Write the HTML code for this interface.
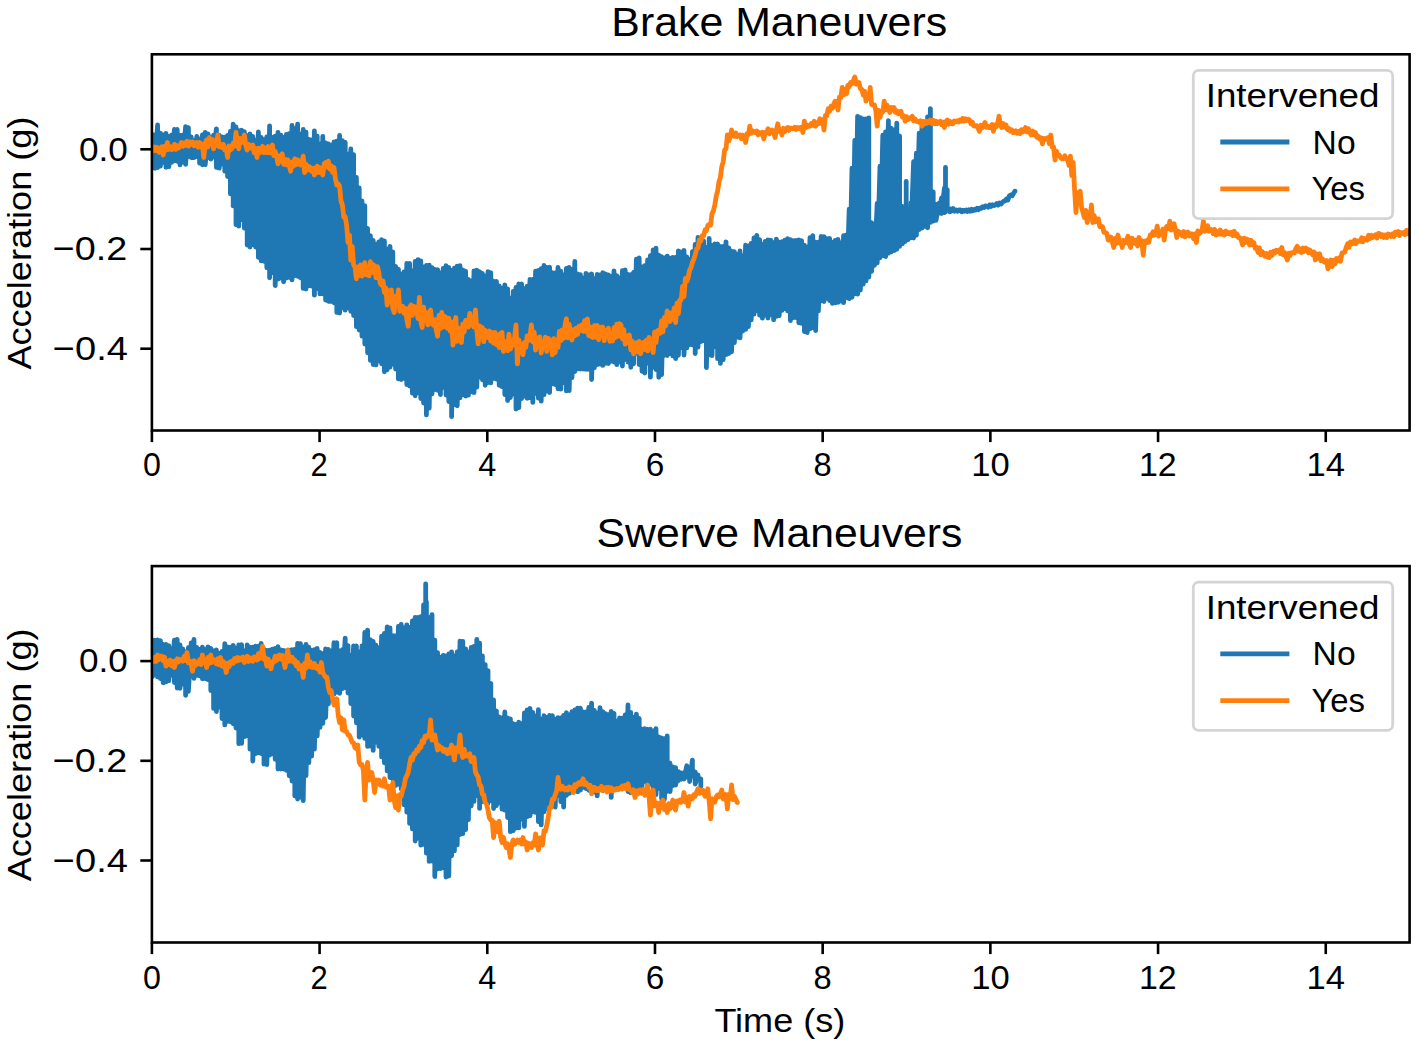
<!DOCTYPE html>
<html lang="en"><head><meta charset="utf-8"><title>Brake and Swerve Maneuvers</title>
<style>html,body{margin:0;padding:0;background:#fff;}svg{display:block;}text{font-family:"Liberation Sans",sans-serif;fill:#000;}</style></head><body>
<svg width="1418" height="1044" viewBox="0 0 1418 1044">
<rect width="1418" height="1044" fill="#fff"/>
<defs><clipPath id="c1"><rect x="151.9" y="54.3" width="1257.7" height="376.2"/></clipPath><clipPath id="c2"><rect x="151.9" y="566.1" width="1257.7" height="376.4"/></clipPath></defs>
<g clip-path="url(#c1)" fill="none" stroke-linejoin="round" stroke-linecap="round" stroke-width="4.8">
<path d="M152.0 134.3 L152.0 164.7 L154.8 134.8 L154.8 168.3 L157.6 125.0 L157.6 167.5 L160.4 133.1 L160.4 166.0 L163.2 134.8 L163.2 162.3 L166.0 133.5 L166.0 167.3 L168.8 136.5 L168.8 166.7 L171.6 135.2 L171.6 162.3 L174.4 129.4 L174.4 160.9 L177.2 129.4 L177.2 161.3 L180.0 135.4 L180.0 164.9 L182.8 135.1 L182.8 162.1 L185.6 126.6 L185.6 164.3 L188.4 127.7 L188.4 156.5 L191.2 136.9 L191.2 157.5 L194.0 140.6 L194.0 157.7 L196.8 136.5 L196.8 156.6 L199.6 139.2 L199.6 163.2 L202.4 135.0 L202.4 164.8 L205.2 132.5 L205.2 164.7 L208.0 134.0 L208.0 157.6 L210.8 137.1 L210.8 159.1 L213.6 135.2 L213.6 157.0 L216.4 128.8 L216.4 167.4 L219.2 135.2 L219.2 168.2 L222.0 136.8 L222.0 164.2 L224.8 137.1 L224.8 171.2 L227.6 135.5 L227.6 176.5 L230.4 131.5 L230.4 193.8 L233.2 124.1 L233.2 205.9 L236.0 126.9 L236.0 224.7 L238.8 130.6 L238.8 226.2 L241.6 130.2 L241.6 219.5 L244.4 131.7 L244.4 228.2 L247.2 135.6 L247.2 245.1 L250.0 134.0 L250.0 247.0 L252.8 136.3 L252.8 244.7 L255.6 140.2 L255.6 247.0 L258.4 131.9 L258.4 257.4 L261.2 137.4 L261.2 260.9 L264.0 139.7 L264.0 261.3 L266.8 136.9 L266.8 267.7 L269.6 125.9 L269.6 277.8 L272.4 137.5 L272.4 272.7 L275.2 136.2 L275.2 285.6 L278.0 132.4 L278.0 279.2 L280.8 135.1 L280.8 278.0 L283.6 137.3 L283.6 281.8 L286.4 134.4 L286.4 278.0 L289.2 133.7 L289.2 277.4 L292.0 125.5 L292.0 279.9 L294.8 128.6 L294.8 275.6 L297.6 124.2 L297.6 276.3 L300.4 134.1 L300.4 277.8 L303.2 129.5 L303.2 288.4 L306.0 132.2 L306.0 289.0 L308.8 139.5 L308.8 285.6 L311.6 140.0 L311.6 286.2 L314.4 130.9 L314.4 295.2 L317.2 136.2 L317.2 288.5 L320.0 144.1 L320.0 293.9 L322.8 136.4 L322.8 293.8 L325.6 142.9 L325.6 300.0 L328.4 144.0 L328.4 301.3 L331.2 145.1 L331.2 301.4 L334.0 142.0 L334.0 302.8 L336.8 141.1 L336.8 312.4 L339.6 135.5 L339.6 313.0 L342.4 140.7 L342.4 307.9 L345.2 142.3 L345.2 310.2 L348.0 154.1 L348.0 307.8 L350.8 148.9 L350.8 311.3 L353.6 154.7 L353.6 315.5 L356.4 177.4 L356.4 326.7 L359.2 187.9 L359.2 330.1 L362.0 200.8 L362.0 336.2 L364.8 205.7 L364.8 344.1 L367.6 228.4 L367.6 352.8 L370.4 235.6 L370.4 360.4 L373.2 240.4 L373.2 364.6 L376.0 244.5 L376.0 364.9 L378.8 241.9 L378.8 360.9 L381.6 239.6 L381.6 363.8 L384.4 241.0 L384.4 371.8 L387.2 249.1 L387.2 369.8 L390.0 246.4 L390.0 367.2 L392.8 251.9 L392.8 364.0 L395.6 266.5 L395.6 369.1 L398.4 269.1 L398.4 378.9 L401.2 273.8 L401.2 379.5 L404.0 272.0 L404.0 378.3 L406.8 263.5 L406.8 384.5 L409.6 263.5 L409.6 386.0 L412.4 271.0 L412.4 393.2 L415.2 261.4 L415.2 395.8 L418.0 259.6 L418.0 392.6 L420.8 260.9 L420.8 398.6 L423.6 266.9 L423.6 403.1 L426.4 265.5 L426.4 414.9 L429.2 265.1 L429.2 408.1 L432.0 267.7 L432.0 393.9 L434.8 269.3 L434.8 389.5 L437.6 269.6 L437.6 390.3 L440.4 272.9 L440.4 394.6 L443.2 268.5 L443.2 387.3 L446.0 265.7 L446.0 395.1 L448.8 267.5 L448.8 401.5 L451.6 270.4 L451.6 416.7 L454.4 268.1 L454.4 404.5 L457.2 266.1 L457.2 405.8 L460.0 265.7 L460.0 397.8 L462.8 269.9 L462.8 394.7 L465.6 271.2 L465.6 396.1 L468.4 279.4 L468.4 395.1 L471.2 280.8 L471.2 391.8 L474.0 270.8 L474.0 392.7 L476.8 270.2 L476.8 387.2 L479.6 271.6 L479.6 377.0 L482.4 273.4 L482.4 379.8 L485.2 276.2 L485.2 385.3 L488.0 271.7 L488.0 382.7 L490.8 272.6 L490.8 382.9 L493.6 281.1 L493.6 378.3 L496.4 281.3 L496.4 379.2 L499.2 286.0 L499.2 385.3 L502.0 288.2 L502.0 386.7 L504.8 285.0 L504.8 394.5 L507.6 288.8 L507.6 400.5 L510.4 298.2 L510.4 397.5 L513.2 291.4 L513.2 394.0 L516.0 287.5 L516.0 409.0 L518.8 283.8 L518.8 407.6 L521.6 283.9 L521.6 398.5 L524.4 288.7 L524.4 396.1 L527.2 286.2 L527.2 398.3 L530.0 279.5 L530.0 397.5 L532.8 279.3 L532.8 402.4 L535.6 271.1 L535.6 393.4 L538.4 270.5 L538.4 398.2 L541.2 268.7 L541.2 401.2 L544.0 265.5 L544.0 394.7 L546.8 267.5 L546.8 391.2 L549.6 267.1 L549.6 392.5 L552.4 272.6 L552.4 383.8 L555.2 273.0 L555.2 384.5 L558.0 267.3 L558.0 388.8 L560.8 271.2 L560.8 389.2 L563.6 274.8 L563.6 382.5 L566.4 268.4 L566.4 390.9 L569.2 267.4 L569.2 390.6 L572.0 269.3 L572.0 377.7 L574.8 261.5 L574.8 371.5 L577.6 273.8 L577.6 368.8 L580.4 274.6 L580.4 369.0 L583.2 278.1 L583.2 369.0 L586.0 273.4 L586.0 369.4 L588.8 274.9 L588.8 369.3 L591.6 273.8 L591.6 379.5 L594.4 278.7 L594.4 367.8 L597.2 274.4 L597.2 364.7 L600.0 274.8 L600.0 364.1 L602.8 272.7 L602.8 365.4 L605.6 274.0 L605.6 363.4 L608.4 274.9 L608.4 363.5 L611.2 276.3 L611.2 361.2 L614.0 270.9 L614.0 362.0 L616.8 275.7 L616.8 364.7 L619.6 277.8 L619.6 361.8 L622.4 270.6 L622.4 366.0 L625.2 270.0 L625.2 359.3 L628.0 274.5 L628.0 362.2 L630.8 274.6 L630.8 367.3 L633.6 272.3 L633.6 363.8 L636.4 259.2 L636.4 353.0 L639.2 257.9 L639.2 364.6 L642.0 266.8 L642.0 371.3 L644.8 265.6 L644.8 373.0 L647.6 260.0 L647.6 363.1 L650.4 255.7 L650.4 377.2 L653.2 249.8 L653.2 367.2 L656.0 248.1 L656.0 369.5 L658.8 255.2 L658.8 377.3 L661.6 256.7 L661.6 374.6 L664.4 257.9 L664.4 355.4 L667.2 256.1 L667.2 355.5 L670.0 258.2 L670.0 353.6 L672.8 257.4 L672.8 355.9 L675.6 257.3 L675.6 358.6 L678.4 250.9 L678.4 355.3 L681.2 252.0 L681.2 347.5 L684.0 250.4 L684.0 355.1 L686.8 257.0 L686.8 347.9 L689.6 259.4 L689.6 344.5 L692.4 251.7 L692.4 344.9 L695.2 244.3 L695.2 353.5 L698.0 237.3 L698.0 347.1 L700.8 237.6 L700.8 341.6 L703.6 240.8 L703.6 340.7 L706.4 247.5 L706.4 367.6 L709.2 238.4 L709.2 354.9 L712.0 245.4 L712.0 355.7 L714.8 243.9 L714.8 346.7 L717.6 244.0 L717.6 358.7 L720.4 246.3 L720.4 363.4 L723.2 246.5 L723.2 359.6 L726.0 241.8 L726.0 354.6 L728.8 248.0 L728.8 353.5 L731.6 251.2 L731.6 351.8 L734.4 251.7 L734.4 342.7 L737.2 254.3 L737.2 337.0 L740.0 251.0 L740.0 337.9 L742.8 255.9 L742.8 331.0 L745.6 245.2 L745.6 329.3 L748.4 245.8 L748.4 326.6 L751.2 243.4 L751.2 319.9 L754.0 237.8 L754.0 314.1 L756.8 235.5 L756.8 310.6 L759.6 239.6 L759.6 315.2 L762.4 244.4 L762.4 318.2 L765.2 241.4 L765.2 315.1 L768.0 239.8 L768.0 318.0 L770.8 240.2 L770.8 314.6 L773.6 242.7 L773.6 319.8 L776.4 239.2 L776.4 316.4 L779.2 242.2 L779.2 315.7 L782.0 241.6 L782.0 310.3 L784.8 240.2 L784.8 308.7 L787.6 238.6 L787.6 310.9 L790.4 239.6 L790.4 320.6 L793.2 240.7 L793.2 317.6 L796.0 240.3 L796.0 317.6 L798.8 240.0 L798.8 322.8 L801.6 240.6 L801.6 323.4 L804.4 245.1 L804.4 331.5 L807.2 247.1 L807.2 332.6 L810.0 237.6 L810.0 328.8 L812.8 235.7 L812.8 327.5 L815.6 242.1 L815.6 330.6 L818.4 242.1 L818.4 310.9 L821.2 236.3 L821.2 300.8 L824.0 236.6 L824.0 301.5 L826.8 238.6 L826.8 298.4 L829.6 238.4 L829.6 300.6 L832.4 242.1 L832.4 303.4 L835.2 240.5 L835.2 302.8 L838.0 239.4 L838.0 302.3 L840.8 242.9 L840.8 301.1 L843.6 235.7 L843.6 302.7 L846.4 234.8 L846.4 297.6 L849.2 209.1 L849.2 298.7 L852.0 168.2 L852.0 297.3 L854.8 140.4 L854.8 293.9 L857.6 116.4 L857.6 294.2 L860.4 117.7 L860.4 290.0 L863.2 118.9 L863.2 284.2 L866.0 118.9 L866.0 280.9 L868.8 117.9 L868.8 277.2 L871.6 222.6 L871.6 271.4 L874.4 228.3 L874.4 265.3 L877.2 203.4 L877.2 262.9 L880.0 166.2 L880.0 257.8 L882.8 135.2 L882.8 255.6 L885.6 131.8 L885.6 256.6 L888.4 120.7 L888.4 253.1 L891.2 128.2 L891.2 251.9 L894.0 129.9 L894.0 250.6 L896.8 123.1 L896.8 249.3 L899.6 135.9 L899.6 246.3 L902.4 206.5 L902.4 243.7 L905.2 209.2 L905.2 241.5 L908.0 214.7 L908.0 239.6 L910.8 203.0 L910.8 237.9 L913.6 161.7 L913.6 238.0 L916.4 153.2 L916.4 235.2 L919.2 133.1 L919.2 229.5 L922.0 126.8 L922.0 228.0 L924.8 124.1 L924.8 226.4 L927.6 116.8 L927.6 227.8 L930.4 108.6 L930.4 222.3 L933.2 191.8 L933.2 221.2 L936.0 204.3 L936.0 220.4 L938.8 203.5 L938.8 213.2 L941.6 197.9 L941.6 213.6 L944.4 188.2 L944.4 212.5 L947.2 189.6 L947.2 209.7 L950.0 209.7 L950.0 211.9 L950.5 208.8 L951.9 210.8 L953.3 208.6 L954.7 211.2 L956.1 210.0 L957.5 211.2 L958.9 209.9 L960.3 210.0 L961.7 211.8 L963.1 210.3 L964.5 211.2 L965.9 210.1 L967.3 211.4 L968.7 209.7 L970.1 211.2 L971.5 209.3 L972.9 210.8 L974.3 209.4 L975.7 210.0 L977.1 208.2 L978.5 209.6 L979.9 208.2 L981.3 208.3 L982.7 206.7 L984.1 207.5 L985.5 205.8 L986.9 206.2 L988.3 207.2 L989.7 204.9 L991.1 206.5 L992.5 204.7 L993.9 205.6 L995.3 205.0 L996.7 203.6 L998.1 205.0 L999.5 203.1 L1000.9 204.0 L1002.3 202.5 L1003.7 201.2 L1005.1 200.9 L1006.5 199.0 L1007.9 200.0 L1009.3 196.0 L1010.7 195.0 L1012.1 195.7 L1013.5 193.4 L1014.9 191.2 L1015.0 191.2" stroke="#1f77b4"/>
<path d="M906.2 181.5 L906.2 222.0" stroke="#1f77b4"/>
<path d="M945.5 167.5 L945.5 212.0" stroke="#1f77b4"/>
<path d="M152.0 147.5 L153.4 150.8 L154.8 147.1 L156.2 150.6 L157.6 147.6 L159.0 152.4 L160.4 150.0 L161.8 146.8 L163.2 155.0 L164.6 146.5 L166.0 150.0 L167.4 142.5 L168.8 149.4 L170.2 146.6 L171.6 149.6 L173.0 148.8 L174.4 144.4 L175.8 149.4 L177.2 145.8 L178.6 148.0 L180.0 146.2 L181.4 142.4 L182.8 146.4 L184.2 143.1 L185.6 145.2 L187.0 141.2 L188.4 146.1 L189.8 142.0 L191.2 144.2 L192.6 141.9 L194.0 145.7 L195.4 145.0 L196.8 142.5 L198.2 147.3 L199.6 142.5 L201.0 147.0 L202.4 144.3 L203.8 157.5 L205.2 143.2 L206.6 140.0 L208.0 147.0 L209.4 137.5 L210.8 143.2 L212.2 139.5 L213.6 148.8 L215.0 140.3 L216.4 145.3 L217.8 135.0 L219.2 146.8 L220.6 144.5 L222.0 147.5 L223.4 144.5 L224.8 149.9 L226.2 148.4 L227.6 157.5 L229.0 145.8 L230.4 150.0 L231.8 148.8 L233.2 143.3 L234.6 146.1 L236.0 132.5 L237.4 142.4 L238.8 148.8 L240.2 138.5 L241.6 142.5 L243.0 142.1 L244.4 135.0 L245.8 145.6 L247.2 150.0 L248.6 144.4 L250.0 148.1 L251.4 146.1 L252.8 145.0 L254.2 152.8 L255.6 148.5 L257.0 157.5 L258.4 148.2 L259.8 152.7 L261.2 150.5 L262.6 146.2 L264.0 152.7 L265.4 148.0 L266.8 152.5 L268.2 146.5 L269.6 152.9 L271.0 149.8 L272.4 145.0 L273.8 155.7 L275.2 151.5 L276.6 156.1 L278.0 163.8 L279.4 155.9 L280.8 161.1 L282.2 153.8 L283.6 164.3 L285.0 159.3 L286.4 164.8 L287.8 159.9 L289.2 165.5 L290.6 171.2 L292.0 161.9 L293.4 166.1 L294.8 158.8 L296.2 164.7 L297.6 159.7 L299.0 163.3 L300.4 165.0 L301.8 162.6 L303.2 156.2 L304.6 172.5 L306.0 164.1 L307.4 170.1 L308.8 166.5 L310.2 167.5 L311.6 171.4 L313.0 168.3 L314.4 175.0 L315.8 168.8 L317.2 166.2 L318.6 172.6 L320.0 167.8 L321.4 170.4 L322.8 175.0 L324.2 163.6 L325.6 162.5 L327.0 167.0 L328.4 161.2 L329.8 169.0 L331.2 165.8 L332.6 172.4 L334.0 167.5 L335.4 178.8 L336.8 185.0 L338.2 183.9 L339.6 186.2 L341.0 200.9 L342.4 205.0 L343.8 217.2 L345.2 216.8 L346.6 225.0 L348.0 242.4 L349.4 235.0 L350.8 260.0 L352.2 246.4 L353.6 264.6 L355.0 267.5 L356.4 278.8 L357.8 266.8 L359.2 275.7 L360.6 265.0 L362.0 276.0 L363.4 272.5 L364.8 262.6 L366.2 274.8 L367.6 267.5 L369.0 275.9 L370.4 261.7 L371.8 272.5 L373.2 264.6 L374.6 266.2 L376.0 277.8 L377.4 266.6 L378.8 272.5 L380.2 283.2 L381.6 285.0 L383.0 280.9 L384.4 292.5 L385.8 288.0 L387.2 305.0 L388.6 290.7 L390.0 301.6 L391.4 290.0 L392.8 308.2 L394.2 312.5 L395.6 296.4 L397.0 304.3 L398.4 290.0 L399.8 311.3 L401.2 310.0 L402.6 306.2 L404.0 313.3 L405.4 308.4 L406.8 318.9 L408.2 326.2 L409.6 307.9 L411.0 305.0 L412.4 315.4 L413.8 306.3 L415.2 312.5 L416.6 307.1 L418.0 318.5 L419.4 297.5 L420.8 321.1 L422.2 327.5 L423.6 307.2 L425.0 316.7 L426.4 312.5 L427.8 324.9 L429.2 313.9 L430.6 310.0 L432.0 323.5 L433.4 325.0 L434.8 319.6 L436.2 329.6 L437.6 336.2 L439.0 315.3 L440.4 328.6 L441.8 312.5 L443.2 327.0 L444.6 316.5 L446.0 317.5 L447.4 328.4 L448.8 318.2 L450.2 331.3 L451.6 322.0 L453.0 345.0 L454.4 324.2 L455.8 317.5 L457.2 341.3 L458.6 328.1 L460.0 334.9 L461.4 342.5 L462.8 324.2 L464.2 331.8 L465.6 320.5 L467.0 322.5 L468.4 327.0 L469.8 313.3 L471.2 325.1 L472.6 318.5 L474.0 327.0 L475.4 310.0 L476.8 330.0 L478.2 343.8 L479.6 325.9 L481.0 332.5 L482.4 327.5 L483.8 341.7 L485.2 330.3 L486.6 336.5 L488.0 337.5 L489.4 331.0 L490.8 341.1 L492.2 332.5 L493.6 343.2 L495.0 332.4 L496.4 344.7 L497.8 334.8 L499.2 347.5 L500.6 333.5 L502.0 332.5 L503.4 351.4 L504.8 347.5 L506.2 341.6 L507.6 350.7 L509.0 334.2 L510.4 349.1 L511.8 340.9 L513.2 345.0 L514.6 337.8 L516.0 325.0 L517.4 363.8 L518.8 340.0 L520.2 347.2 L521.6 344.2 L523.0 354.6 L524.4 342.5 L525.8 347.5 L527.2 335.8 L528.6 340.5 L530.0 335.8 L531.4 325.0 L532.8 341.9 L534.2 332.2 L535.6 350.0 L537.0 338.0 L538.4 346.4 L539.8 336.9 L541.2 353.0 L542.6 342.5 L544.0 347.8 L545.4 337.1 L546.8 351.4 L548.2 338.4 L549.6 347.5 L551.0 340.2 L552.4 354.9 L553.8 338.7 L555.2 352.6 L556.6 340.2 L558.0 347.5 L559.4 331.4 L560.8 340.7 L562.2 330.0 L563.6 338.3 L565.0 325.2 L566.4 318.8 L567.8 337.8 L569.2 324.4 L570.6 334.1 L572.0 340.0 L573.4 329.7 L574.8 335.9 L576.2 328.3 L577.6 334.4 L579.0 326.2 L580.4 330.0 L581.8 324.9 L583.2 331.3 L584.6 320.7 L586.0 331.7 L587.4 318.8 L588.8 335.5 L590.2 326.9 L591.6 336.8 L593.0 337.5 L594.4 325.7 L595.8 337.1 L597.2 325.4 L598.6 339.6 L600.0 327.5 L601.4 335.6 L602.8 327.0 L604.2 340.7 L605.6 330.7 L607.0 335.0 L608.4 328.2 L609.8 341.3 L611.2 333.7 L612.6 341.0 L614.0 327.7 L615.4 337.5 L616.8 324.2 L618.2 336.3 L619.6 323.6 L621.0 325.0 L622.4 338.8 L623.8 329.5 L625.2 344.1 L626.6 336.0 L628.0 342.5 L629.4 335.0 L630.8 349.8 L632.2 341.0 L633.6 353.8 L635.0 347.5 L636.4 342.7 L637.8 352.0 L639.2 341.5 L640.6 353.8 L642.0 347.5 L643.4 342.4 L644.8 349.5 L646.2 340.3 L647.6 350.9 L649.0 337.5 L650.4 340.0 L651.8 346.8 L653.2 352.5 L654.6 332.2 L656.0 342.4 L657.4 330.8 L658.8 330.0 L660.2 333.2 L661.6 320.9 L663.0 331.8 L664.4 317.5 L665.8 325.6 L667.2 311.0 L668.6 313.8 L670.0 321.5 L671.4 313.0 L672.8 319.2 L674.2 308.0 L675.6 322.5 L677.0 303.1 L678.4 313.6 L679.8 300.0 L681.2 299.8 L682.6 286.3 L684.0 296.5 L685.4 278.4 L686.8 281.3 L688.2 277.5 L689.6 270.0 L691.0 267.7 L692.4 262.5 L693.8 259.1 L695.2 255.0 L696.6 249.0 L698.0 248.0 L699.4 240.0 L700.8 241.2 L702.2 235.7 L703.6 236.0 L705.0 230.0 L706.4 230.7 L707.8 225.5 L709.2 224.4 L710.6 225.0 L712.0 213.6 L713.4 210.9 L714.8 205.0 L716.2 196.4 L717.6 191.2 L719.0 181.7 L720.4 177.5 L721.8 166.6 L723.2 161.8 L724.6 150.0 L726.0 148.7 L727.4 135.0 L728.8 140.8 L730.2 137.2 L731.6 130.0 L733.0 135.7 L734.4 136.2 L735.8 132.9 L737.2 136.4 L738.6 135.7 L740.0 135.0 L741.4 138.6 L742.8 135.2 L744.2 136.6 L745.6 142.5 L747.0 133.7 L748.4 134.5 L749.8 126.2 L751.2 133.3 L752.6 130.8 L754.0 131.8 L755.4 132.5 L756.8 131.0 L758.2 134.8 L759.6 132.5 L761.0 134.0 L762.4 132.3 L763.8 138.8 L765.2 132.4 L766.6 132.9 L768.0 128.8 L769.4 133.9 L770.8 130.3 L772.2 130.0 L773.6 131.6 L775.0 137.5 L776.4 130.0 L777.8 123.8 L779.2 131.5 L780.6 130.0 L782.0 135.0 L783.4 128.3 L784.8 131.5 L786.2 128.4 L787.6 127.5 L789.0 130.4 L790.4 127.9 L791.8 128.7 L793.2 128.8 L794.6 127.3 L796.0 129.5 L797.4 127.5 L798.8 128.7 L800.2 127.4 L801.6 127.5 L803.0 132.5 L804.4 121.2 L805.8 127.6 L807.2 125.1 L808.6 126.4 L810.0 126.2 L811.4 123.4 L812.8 125.3 L814.2 121.2 L815.6 126.2 L817.0 123.0 L818.4 123.8 L819.8 118.8 L821.2 123.2 L822.6 119.7 L824.0 130.0 L825.4 115.4 L826.8 115.7 L828.2 108.8 L829.6 111.2 L831.0 106.2 L832.4 108.2 L833.8 103.9 L835.2 101.2 L836.6 102.9 L838.0 110.0 L839.4 97.1 L840.8 97.6 L842.2 87.5 L843.6 94.9 L845.0 89.5 L846.4 93.8 L847.8 85.4 L849.2 86.6 L850.6 82.5 L852.0 83.7 L853.4 80.5 L854.8 77.0 L856.2 84.2 L857.6 84.1 L859.0 82.5 L860.4 88.8 L861.8 89.3 L863.2 95.0 L864.6 91.2 L866.0 101.2 L867.4 95.4 L868.8 98.6 L870.2 87.5 L871.6 104.6 L873.0 105.1 L874.4 105.0 L875.8 110.3 L877.2 126.2 L878.6 110.3 L880.0 117.5 L881.4 111.3 L882.8 111.9 L884.2 101.2 L885.6 109.8 L887.0 105.0 L888.4 108.0 L889.8 112.5 L891.2 107.4 L892.6 110.1 L894.0 107.5 L895.4 112.4 L896.8 110.7 L898.2 113.8 L899.6 112.3 L901.0 111.2 L902.4 117.0 L903.8 115.8 L905.2 121.2 L906.6 116.6 L908.0 119.5 L909.4 118.8 L910.8 117.5 L912.2 116.2 L913.6 120.9 L915.0 119.0 L916.4 121.4 L917.8 121.2 L919.2 122.3 L920.6 120.7 L922.0 126.2 L923.4 121.4 L924.8 124.0 L926.2 121.2 L927.6 123.1 L929.0 121.1 L930.4 120.0 L931.8 123.5 L933.2 120.3 L934.6 123.8 L936.0 121.2 L937.4 123.7 L938.8 122.6 L940.2 121.2 L941.6 124.7 L943.0 122.1 L944.4 127.5 L945.8 121.8 L947.2 120.0 L948.6 124.3 L950.0 121.3 L951.4 123.7 L952.8 123.8 L954.2 121.1 L955.6 121.9 L957.0 120.8 L958.4 121.9 L959.8 120.0 L961.2 121.2 L962.6 118.4 L964.0 121.2 L965.4 118.8 L966.8 120.4 L968.2 119.2 L969.6 120.0 L971.0 123.9 L972.4 122.2 L973.8 125.9 L975.2 126.2 L976.6 125.7 L978.0 128.1 L979.4 131.2 L980.8 125.3 L982.2 127.9 L983.6 125.0 L985.0 122.5 L986.4 127.2 L987.8 126.3 L989.2 127.7 L990.6 127.5 L992.0 124.4 L993.4 131.2 L994.8 124.9 L996.2 126.9 L997.6 123.7 L999.0 116.2 L1000.4 125.0 L1001.8 127.5 L1003.2 123.5 L1004.6 127.0 L1006.0 125.0 L1007.4 129.5 L1008.8 128.5 L1010.2 131.2 L1011.6 129.8 L1013.0 132.6 L1014.4 132.5 L1015.8 130.9 L1017.2 133.1 L1018.6 131.5 L1020.0 133.8 L1021.4 129.6 L1022.8 132.0 L1024.2 130.0 L1025.6 127.5 L1027.0 131.9 L1028.4 128.8 L1029.8 132.6 L1031.2 135.0 L1032.6 131.0 L1034.0 134.7 L1035.4 132.5 L1036.8 137.3 L1038.2 136.2 L1039.6 138.9 L1041.0 137.7 L1042.4 143.8 L1043.8 138.4 L1045.2 139.4 L1046.6 138.4 L1048.0 137.5 L1049.4 143.6 L1050.8 135.0 L1052.2 147.1 L1053.6 147.0 L1055.0 160.0 L1056.4 151.1 L1057.8 155.0 L1059.2 155.0 L1060.6 157.8 L1062.0 158.8 L1063.4 158.8 L1064.8 155.7 L1066.2 158.8 L1067.6 159.7 L1069.0 165.3 L1070.4 156.2 L1071.8 175.5 L1073.2 162.5 L1074.6 190.0 L1076.0 212.5 L1077.4 192.8 L1078.8 201.7 L1080.2 191.2 L1081.6 207.5 L1083.0 212.5 L1084.4 217.5 L1085.8 210.4 L1087.2 222.5 L1088.6 216.2 L1090.0 218.1 L1091.4 205.0 L1092.8 222.5 L1094.2 215.6 L1095.6 221.8 L1097.0 219.0 L1098.4 218.8 L1099.8 226.7 L1101.2 226.2 L1102.6 226.8 L1104.0 232.4 L1105.4 232.5 L1106.8 233.3 L1108.2 240.0 L1109.6 240.0 L1111.0 237.1 L1112.4 242.5 L1113.8 247.5 L1115.2 238.4 L1116.6 243.3 L1118.0 235.0 L1119.4 242.9 L1120.8 240.5 L1122.2 247.5 L1123.6 240.3 L1125.0 242.9 L1126.4 242.2 L1127.8 236.2 L1129.2 243.9 L1130.6 247.5 L1132.0 238.1 L1133.4 240.0 L1134.8 243.3 L1136.2 240.1 L1137.6 246.0 L1139.0 237.5 L1140.4 243.3 L1141.8 240.6 L1143.2 255.0 L1144.6 241.2 L1146.0 243.1 L1147.4 240.2 L1148.8 242.3 L1150.2 235.0 L1151.6 235.7 L1153.0 231.7 L1154.4 235.0 L1155.8 233.8 L1157.2 226.2 L1158.6 236.2 L1160.0 232.5 L1161.4 233.9 L1162.8 229.3 L1164.2 240.0 L1165.6 228.0 L1167.0 226.2 L1168.4 228.7 L1169.8 221.2 L1171.2 230.1 L1172.6 224.4 L1174.0 223.8 L1175.4 230.0 L1176.8 237.5 L1178.2 231.0 L1179.6 233.9 L1181.0 232.5 L1182.4 235.9 L1183.8 231.5 L1185.2 236.8 L1186.6 235.0 L1188.0 232.1 L1189.4 236.0 L1190.8 233.9 L1192.2 233.8 L1193.6 238.9 L1195.0 234.0 L1196.4 242.5 L1197.8 230.9 L1199.2 233.7 L1200.6 232.5 L1202.0 230.6 L1203.4 221.2 L1204.8 231.4 L1206.2 230.0 L1207.6 225.6 L1209.0 231.2 L1210.4 229.2 L1211.8 230.0 L1213.2 233.6 L1214.6 229.3 L1216.0 235.0 L1217.4 231.6 L1218.8 234.1 L1220.2 230.0 L1221.6 234.2 L1223.0 232.2 L1224.4 235.0 L1225.8 231.0 L1227.2 233.7 L1228.6 232.5 L1230.0 234.0 L1231.4 232.2 L1232.8 235.5 L1234.2 231.2 L1235.6 235.5 L1237.0 234.0 L1238.4 237.5 L1239.8 237.6 L1241.2 240.1 L1242.6 245.0 L1244.0 238.2 L1245.4 242.5 L1246.8 239.1 L1248.2 240.0 L1249.6 245.1 L1251.0 240.3 L1252.4 244.9 L1253.8 242.5 L1255.2 248.3 L1256.6 247.3 L1258.0 252.5 L1259.4 247.9 L1260.8 254.8 L1262.2 251.4 L1263.6 253.8 L1265.0 256.2 L1266.4 253.4 L1267.8 257.1 L1269.2 257.5 L1270.6 252.3 L1272.0 255.6 L1273.4 251.2 L1274.8 253.0 L1276.2 250.3 L1277.6 251.4 L1279.0 250.0 L1280.4 253.6 L1281.8 247.5 L1283.2 254.8 L1284.6 252.6 L1286.0 256.5 L1287.4 260.0 L1288.8 253.2 L1290.2 255.6 L1291.6 252.6 L1293.0 252.5 L1294.4 253.0 L1295.8 248.6 L1297.2 246.2 L1298.6 251.4 L1300.0 248.9 L1301.4 252.5 L1302.8 248.0 L1304.2 251.4 L1305.6 248.0 L1307.0 248.8 L1308.4 252.8 L1309.8 249.9 L1311.2 252.5 L1312.6 254.8 L1314.0 252.0 L1315.4 260.0 L1316.8 254.0 L1318.2 258.1 L1319.6 253.8 L1321.0 260.7 L1322.4 258.8 L1323.8 261.7 L1325.2 262.5 L1326.6 260.6 L1328.0 268.8 L1329.4 261.8 L1330.8 260.0 L1332.2 266.6 L1333.6 260.3 L1335.0 263.8 L1336.4 258.5 L1337.8 260.9 L1339.2 258.0 L1340.6 261.2 L1342.0 252.8 L1343.4 252.5 L1344.8 252.1 L1346.2 247.3 L1347.6 243.8 L1349.0 247.3 L1350.4 241.9 L1351.8 243.8 L1353.2 243.5 L1354.6 240.0 L1356.0 243.5 L1357.4 241.0 L1358.8 241.2 L1360.2 241.3 L1361.6 237.8 L1363.0 241.7 L1364.4 238.5 L1365.8 238.8 L1367.2 240.1 L1368.6 235.3 L1370.0 238.6 L1371.4 235.2 L1372.8 237.4 L1374.2 236.2 L1375.6 234.8 L1377.0 238.1 L1378.4 233.4 L1379.8 233.8 L1381.2 236.5 L1382.6 234.9 L1384.0 237.5 L1385.4 234.9 L1386.8 237.6 L1388.2 233.9 L1389.6 235.0 L1391.0 236.4 L1392.4 233.9 L1393.8 236.6 L1395.2 232.1 L1396.6 234.5 L1398.0 231.4 L1399.4 235.6 L1400.8 232.4 L1402.2 233.6 L1403.6 232.5 L1405.0 234.6 L1406.4 230.4 L1407.8 233.8 L1409.2 231.2 L1410.6 230.4 L1412.0 233.2 L1413.4 230.0 L1414.0 230.0" stroke="#ff7f0e"/>
</g>
<g clip-path="url(#c2)" fill="none" stroke-linejoin="round" stroke-linecap="round" stroke-width="4.8">
<path d="M152.0 649.9 L152.0 676.7 L154.8 640.1 L154.8 675.1 L157.6 639.9 L157.6 676.9 L160.4 640.6 L160.4 678.6 L163.2 644.5 L163.2 682.8 L166.0 644.5 L166.0 681.9 L168.8 645.7 L168.8 680.7 L171.6 648.8 L171.6 675.2 L174.4 640.2 L174.4 682.6 L177.2 639.4 L177.2 688.0 L180.0 644.8 L180.0 688.3 L182.8 648.9 L182.8 684.1 L185.6 651.8 L185.6 695.3 L188.4 647.6 L188.4 691.3 L191.2 643.0 L191.2 675.3 L194.0 639.5 L194.0 678.4 L196.8 647.5 L196.8 675.3 L199.6 649.3 L199.6 675.9 L202.4 647.2 L202.4 678.8 L205.2 649.7 L205.2 678.5 L208.0 646.8 L208.0 679.7 L210.8 648.3 L210.8 690.5 L213.6 650.9 L213.6 708.4 L216.4 650.0 L216.4 711.6 L219.2 653.5 L219.2 707.0 L222.0 651.4 L222.0 718.6 L224.8 643.6 L224.8 724.9 L227.6 647.0 L227.6 721.4 L230.4 647.2 L230.4 721.8 L233.2 645.3 L233.2 723.8 L236.0 648.2 L236.0 728.0 L238.8 644.9 L238.8 743.7 L241.6 644.7 L241.6 743.4 L244.4 651.0 L244.4 736.7 L247.2 644.8 L247.2 735.9 L250.0 647.1 L250.0 749.2 L252.8 647.1 L252.8 761.0 L255.6 646.1 L255.6 753.6 L258.4 646.1 L258.4 752.6 L261.2 643.5 L261.2 753.6 L264.0 649.2 L264.0 764.2 L266.8 650.3 L266.8 764.6 L269.6 650.2 L269.6 755.2 L272.4 649.2 L272.4 753.8 L275.2 648.3 L275.2 759.3 L278.0 646.7 L278.0 769.0 L280.8 649.8 L280.8 769.0 L283.6 650.4 L283.6 769.1 L286.4 650.9 L286.4 770.3 L289.2 650.1 L289.2 775.8 L292.0 649.7 L292.0 781.1 L294.8 649.3 L294.8 795.9 L297.6 643.5 L297.6 799.0 L300.4 643.6 L300.4 797.1 L303.2 647.2 L303.2 800.7 L306.0 644.4 L306.0 775.7 L308.8 647.1 L308.8 762.6 L311.6 650.5 L311.6 756.2 L314.4 649.6 L314.4 749.2 L317.2 648.4 L317.2 735.8 L320.0 652.3 L320.0 727.4 L322.8 653.6 L322.8 723.3 L325.6 648.8 L325.6 717.5 L328.4 649.5 L328.4 703.8 L331.2 650.8 L331.2 696.8 L334.0 642.7 L334.0 694.0 L336.8 642.7 L336.8 692.2 L339.6 650.9 L339.6 693.3 L342.4 649.6 L342.4 688.7 L345.2 638.1 L345.2 687.5 L348.0 645.6 L348.0 693.0 L350.8 655.3 L350.8 703.6 L353.6 645.8 L353.6 716.1 L356.4 645.9 L356.4 722.8 L359.2 652.0 L359.2 737.1 L362.0 646.0 L362.0 735.1 L364.8 632.4 L364.8 738.4 L367.6 630.1 L367.6 746.4 L370.4 639.6 L370.4 746.1 L373.2 641.5 L373.2 750.4 L376.0 645.2 L376.0 742.2 L378.8 648.1 L378.8 746.3 L381.6 636.1 L381.6 756.9 L384.4 633.4 L384.4 762.8 L387.2 626.8 L387.2 770.9 L390.0 627.9 L390.0 777.6 L392.8 635.6 L392.8 779.1 L395.6 636.0 L395.6 785.5 L398.4 626.3 L398.4 784.1 L401.2 624.3 L401.2 788.9 L404.0 628.0 L404.0 804.8 L406.8 625.0 L406.8 812.2 L409.6 627.3 L409.6 823.4 L412.4 620.9 L412.4 828.9 L415.2 617.5 L415.2 841.0 L418.0 617.3 L418.0 838.2 L420.8 616.7 L420.8 845.2 L423.6 604.9 L423.6 844.4 L426.4 602.0 L426.4 853.2 L429.2 617.6 L429.2 861.4 L432.0 614.6 L432.0 861.0 L434.8 640.1 L434.8 876.6 L437.6 652.7 L437.6 868.9 L440.4 657.2 L440.4 868.7 L443.2 655.3 L443.2 867.8 L446.0 655.9 L446.0 877.0 L448.8 654.0 L448.8 876.0 L451.6 651.9 L451.6 855.8 L454.4 655.8 L454.4 850.9 L457.2 652.0 L457.2 844.9 L460.0 641.2 L460.0 834.5 L462.8 641.5 L462.8 833.6 L465.6 648.8 L465.6 829.6 L468.4 652.1 L468.4 819.7 L471.2 647.5 L471.2 805.9 L474.0 646.5 L474.0 801.4 L476.8 639.5 L476.8 795.5 L479.6 643.1 L479.6 808.4 L482.4 656.0 L482.4 801.6 L485.2 664.6 L485.2 795.7 L488.0 670.6 L488.0 803.4 L490.8 683.3 L490.8 800.5 L493.6 699.9 L493.6 808.5 L496.4 710.8 L496.4 805.6 L499.2 716.8 L499.2 802.9 L502.0 718.0 L502.0 809.2 L504.8 712.0 L504.8 810.2 L507.6 717.9 L507.6 817.5 L510.4 718.8 L510.4 831.7 L513.2 723.6 L513.2 830.6 L516.0 724.3 L516.0 828.0 L518.8 722.2 L518.8 827.9 L521.6 723.7 L521.6 819.2 L524.4 713.0 L524.4 826.4 L527.2 709.9 L527.2 816.6 L530.0 708.3 L530.0 815.6 L532.8 712.5 L532.8 811.9 L535.6 716.1 L535.6 812.4 L538.4 709.7 L538.4 821.7 L541.2 719.1 L541.2 824.9 L544.0 715.7 L544.0 811.8 L546.8 717.4 L546.8 808.7 L549.6 715.3 L549.6 805.7 L552.4 715.7 L552.4 805.5 L555.2 719.2 L555.2 807.1 L558.0 717.7 L558.0 795.3 L560.8 717.9 L560.8 801.7 L563.6 715.4 L563.6 807.1 L566.4 712.6 L566.4 795.4 L569.2 714.8 L569.2 793.4 L572.0 711.7 L572.0 792.0 L574.8 710.0 L574.8 791.2 L577.6 708.1 L577.6 791.8 L580.4 708.2 L580.4 790.2 L583.2 712.0 L583.2 787.3 L586.0 711.9 L586.0 788.5 L588.8 707.5 L588.8 790.3 L591.6 703.1 L591.6 791.6 L594.4 710.5 L594.4 792.2 L597.2 713.1 L597.2 795.9 L600.0 707.7 L600.0 788.4 L602.8 711.6 L602.8 790.6 L605.6 713.7 L605.6 787.9 L608.4 714.7 L608.4 790.1 L611.2 711.5 L611.2 797.4 L614.0 713.3 L614.0 786.4 L616.8 721.1 L616.8 786.2 L619.6 717.9 L619.6 788.4 L622.4 718.2 L622.4 789.0 L625.2 715.0 L625.2 786.0 L628.0 705.0 L628.0 791.6 L630.8 712.5 L630.8 792.9 L633.6 717.3 L633.6 792.1 L636.4 714.2 L636.4 789.6 L639.2 718.5 L639.2 787.8 L642.0 729.1 L642.0 786.5 L644.8 728.6 L644.8 781.3 L647.6 729.3 L647.6 784.5 L650.4 729.2 L650.4 784.0 L653.2 731.0 L653.2 788.0 L656.0 728.7 L656.0 794.7 L658.8 736.8 L658.8 788.3 L661.6 737.8 L661.6 798.5 L664.4 738.6 L664.4 799.3 L667.2 736.0 L667.2 791.4 L670.0 763.2 L670.0 791.7 L672.8 767.0 L672.8 785.7 L675.6 767.7 L675.6 785.1 L678.4 771.6 L678.4 780.5 L681.2 773.0 L681.2 779.3 L684.0 772.8 L684.0 779.0 L686.8 765.8 L686.8 777.0 L689.6 768.1 L689.6 781.5 L692.4 760.1 L692.4 776.2 L695.2 772.0 L695.2 784.0 L698.0 775.0 L698.0 779.5 L700.8 778.9 L700.8 786.6" stroke="#1f77b4"/>
<path d="M425.7 583.8 L425.7 650.0" stroke="#1f77b4"/>
<path d="M152.0 662.5 L153.4 661.2 L154.8 657.2 L156.2 661.4 L157.6 655.0 L159.0 659.5 L160.4 656.2 L161.8 656.2 L163.2 660.9 L164.6 657.2 L166.0 666.2 L167.4 661.3 L168.8 664.5 L170.2 660.0 L171.6 665.8 L173.0 661.4 L174.4 667.5 L175.8 660.8 L177.2 658.8 L178.6 661.9 L180.0 659.5 L181.4 660.0 L182.8 661.2 L184.2 656.3 L185.6 660.5 L187.0 652.5 L188.4 662.9 L189.8 660.9 L191.2 664.3 L192.6 671.2 L194.0 660.6 L195.4 665.5 L196.8 662.5 L198.2 663.6 L199.6 659.8 L201.0 664.6 L202.4 655.0 L203.8 662.6 L205.2 659.2 L206.6 667.5 L208.0 657.4 L209.4 663.3 L210.8 655.0 L212.2 662.4 L213.6 659.5 L215.0 660.6 L216.4 663.8 L217.8 658.7 L219.2 664.7 L220.6 657.5 L222.0 666.2 L223.4 661.6 L224.8 665.4 L226.2 672.5 L227.6 663.2 L229.0 666.8 L230.4 661.9 L231.8 661.2 L233.2 663.3 L234.6 658.5 L236.0 661.3 L237.4 657.5 L238.8 660.4 L240.2 658.1 L241.6 659.8 L243.0 657.1 L244.4 662.5 L245.8 658.3 L247.2 656.2 L248.6 661.5 L250.0 657.7 L251.4 660.6 L252.8 661.2 L254.2 656.9 L255.6 658.2 L257.0 660.0 L258.4 653.6 L259.8 658.6 L261.2 654.3 L262.6 646.2 L264.0 659.3 L265.4 657.7 L266.8 666.2 L268.2 659.2 L269.6 663.7 L271.0 668.8 L272.4 661.8 L273.8 662.1 L275.2 656.2 L276.6 660.5 L278.0 656.9 L279.4 655.0 L280.8 659.1 L282.2 655.5 L283.6 659.5 L285.0 667.5 L286.4 657.0 L287.8 650.0 L289.2 661.4 L290.6 660.0 L292.0 657.2 L293.4 662.0 L294.8 660.1 L296.2 665.8 L297.6 662.5 L299.0 669.0 L300.4 665.5 L301.8 668.3 L303.2 677.5 L304.6 663.4 L306.0 668.3 L307.4 655.0 L308.8 666.3 L310.2 661.9 L311.6 667.1 L313.0 667.5 L314.4 663.5 L315.8 667.1 L317.2 668.8 L318.6 666.6 L320.0 672.1 L321.4 662.5 L322.8 672.8 L324.2 675.0 L325.6 677.4 L327.0 677.5 L328.4 687.7 L329.8 692.5 L331.2 690.6 L332.6 698.5 L334.0 705.0 L335.4 704.8 L336.8 698.8 L338.2 715.4 L339.6 722.5 L341.0 717.8 L342.4 730.0 L343.8 720.0 L345.2 731.4 L346.6 731.4 L348.0 735.0 L349.4 735.2 L350.8 738.6 L352.2 742.5 L353.6 742.8 L355.0 747.8 L356.4 748.7 L357.8 745.0 L359.2 762.1 L360.6 765.0 L362.0 764.5 L363.4 770.4 L364.8 800.0 L366.2 773.7 L367.6 762.5 L369.0 780.2 L370.4 778.1 L371.8 772.5 L373.2 780.5 L374.6 792.5 L376.0 780.0 L377.4 782.2 L378.8 780.0 L380.2 785.1 L381.6 782.1 L383.0 786.1 L384.4 778.8 L385.8 786.8 L387.2 787.5 L388.6 786.2 L390.0 800.0 L391.4 792.7 L392.8 782.5 L394.2 800.3 L395.6 807.5 L397.0 795.9 L398.4 810.0 L399.8 794.7 L401.2 796.3 L402.6 790.0 L404.0 786.5 L405.4 778.5 L406.8 775.6 L408.2 772.5 L409.6 764.3 L411.0 757.5 L412.4 760.2 L413.8 753.7 L415.2 754.0 L416.6 750.0 L418.0 751.0 L419.4 746.3 L420.8 747.5 L422.2 740.6 L423.6 742.6 L425.0 736.2 L426.4 737.5 L427.8 735.0 L429.2 735.7 L430.6 720.0 L432.0 740.0 L433.4 735.8 L434.8 735.0 L436.2 742.6 L437.6 750.0 L439.0 745.6 L440.4 748.8 L441.8 747.7 L443.2 751.2 L444.6 749.2 L446.0 751.8 L447.4 753.8 L448.8 749.4 L450.2 752.9 L451.6 745.0 L453.0 751.3 L454.4 760.0 L455.8 747.8 L457.2 751.8 L458.6 748.4 L460.0 735.0 L461.4 752.4 L462.8 757.5 L464.2 749.4 L465.6 755.0 L467.0 756.2 L468.4 755.7 L469.8 753.8 L471.2 761.5 L472.6 761.5 L474.0 757.5 L475.4 771.7 L476.8 775.0 L478.2 776.9 L479.6 785.0 L481.0 785.9 L482.4 794.4 L483.8 795.0 L485.2 802.6 L486.6 804.4 L488.0 810.0 L489.4 817.7 L490.8 820.0 L492.2 820.2 L493.6 837.5 L495.0 822.7 L496.4 825.0 L497.8 831.8 L499.2 821.2 L500.6 836.7 L502.0 842.5 L503.4 837.3 L504.8 843.3 L506.2 847.5 L507.6 843.7 L509.0 849.1 L510.4 857.5 L511.8 844.7 L513.2 840.0 L514.6 844.3 L516.0 841.6 L517.4 840.0 L518.8 842.4 L520.2 840.1 L521.6 844.0 L523.0 837.5 L524.4 844.1 L525.8 841.9 L527.2 850.0 L528.6 843.3 L530.0 844.6 L531.4 847.5 L532.8 842.7 L534.2 845.2 L535.6 833.8 L537.0 844.5 L538.4 850.0 L539.8 837.9 L541.2 840.4 L542.6 845.0 L544.0 830.6 L545.4 831.2 L546.8 825.0 L548.2 817.8 L549.6 807.5 L551.0 807.7 L552.4 799.2 L553.8 799.4 L555.2 795.0 L556.6 791.4 L558.0 777.5 L559.4 787.5 L560.8 789.3 L562.2 786.2 L563.6 788.4 L565.0 790.0 L566.4 788.3 L567.8 789.9 L569.2 787.0 L570.6 787.5 L572.0 789.7 L573.4 792.5 L574.8 784.6 L576.2 786.6 L577.6 783.7 L579.0 782.5 L580.4 784.3 L581.8 781.7 L583.2 778.8 L584.6 784.6 L586.0 782.8 L587.4 785.0 L588.8 787.2 L590.2 785.4 L591.6 793.8 L593.0 787.5 L594.4 787.5 L595.8 790.5 L597.2 788.5 L598.6 790.5 L600.0 790.0 L601.4 786.3 L602.8 790.2 L604.2 788.4 L605.6 787.5 L607.0 792.1 L608.4 787.3 L609.8 791.2 L611.2 787.8 L612.6 791.0 L614.0 789.3 L615.4 790.0 L616.8 788.6 L618.2 789.6 L619.6 788.0 L621.0 788.8 L622.4 785.9 L623.8 788.5 L625.2 785.6 L626.6 788.8 L628.0 783.8 L629.4 789.6 L630.8 790.0 L632.2 792.8 L633.6 789.8 L635.0 797.5 L636.4 791.0 L637.8 794.1 L639.2 790.1 L640.6 790.0 L642.0 793.2 L643.4 789.5 L644.8 795.3 L646.2 792.7 L647.6 785.0 L649.0 795.6 L650.4 815.0 L651.8 797.1 L653.2 790.0 L654.6 805.9 L656.0 802.7 L657.4 803.9 L658.8 812.5 L660.2 802.6 L661.6 806.7 L663.0 800.0 L664.4 809.7 L665.8 805.7 L667.2 812.5 L668.6 803.7 L670.0 808.8 L671.4 805.7 L672.8 800.0 L674.2 806.8 L675.6 810.0 L677.0 800.9 L678.4 802.1 L679.8 800.0 L681.2 802.2 L682.6 800.5 L684.0 792.5 L685.4 802.1 L686.8 797.3 L688.2 806.2 L689.6 796.4 L691.0 799.0 L692.4 798.8 L693.8 794.6 L695.2 796.2 L696.6 792.1 L698.0 788.8 L699.4 793.4 L700.8 789.9 L702.2 792.5 L703.6 790.6 L705.0 796.3 L706.4 795.7 L707.8 788.8 L709.2 801.6 L710.6 818.8 L712.0 798.7 L713.4 800.0 L714.8 802.3 L716.2 797.0 L717.6 795.0 L719.0 796.8 L720.4 793.9 L721.8 790.0 L723.2 799.0 L724.6 797.5 L726.0 794.6 L727.4 808.8 L728.8 794.3 L730.2 798.2 L731.6 785.0 L733.0 799.6 L734.4 796.2 L735.8 799.1 L737.2 802.5 L737.5 802.5" stroke="#ff7f0e"/>
</g>
<rect x="151.90" y="54.30" width="1257.70" height="376.20" fill="none" stroke="#000" stroke-width="2.60"/>
<g stroke="#000" stroke-width="2.60"><line x1="151.90" y1="430.50" x2="151.90" y2="442.10"/><line x1="319.59" y1="430.50" x2="319.59" y2="442.10"/><line x1="487.29" y1="430.50" x2="487.29" y2="442.10"/><line x1="654.98" y1="430.50" x2="654.98" y2="442.10"/><line x1="822.67" y1="430.50" x2="822.67" y2="442.10"/><line x1="990.37" y1="430.50" x2="990.37" y2="442.10"/><line x1="1158.06" y1="430.50" x2="1158.06" y2="442.10"/><line x1="1325.75" y1="430.50" x2="1325.75" y2="442.10"/><line x1="140.30" y1="149.30" x2="151.90" y2="149.30"/><line x1="140.30" y1="249.00" x2="151.90" y2="249.00"/><line x1="140.30" y1="348.70" x2="151.90" y2="348.70"/></g>
<rect x="151.90" y="566.10" width="1257.70" height="376.40" fill="none" stroke="#000" stroke-width="2.60"/>
<g stroke="#000" stroke-width="2.60"><line x1="151.90" y1="942.50" x2="151.90" y2="954.10"/><line x1="319.59" y1="942.50" x2="319.59" y2="954.10"/><line x1="487.29" y1="942.50" x2="487.29" y2="954.10"/><line x1="654.98" y1="942.50" x2="654.98" y2="954.10"/><line x1="822.67" y1="942.50" x2="822.67" y2="954.10"/><line x1="990.37" y1="942.50" x2="990.37" y2="954.10"/><line x1="1158.06" y1="942.50" x2="1158.06" y2="954.10"/><line x1="1325.75" y1="942.50" x2="1325.75" y2="954.10"/><line x1="140.30" y1="661.10" x2="151.90" y2="661.10"/><line x1="140.30" y1="760.80" x2="151.90" y2="760.80"/><line x1="140.30" y1="860.50" x2="151.90" y2="860.50"/></g>
<text transform="translate(142.92 476.30) scale(0.3227 0.3412)" font-size="100">0</text>
<text transform="translate(310.55 476.30) scale(0.3096 0.3412)" font-size="100">2</text>
<text transform="translate(478.27 476.30) scale(0.3236 0.3412)" font-size="100">4</text>
<text transform="translate(645.69 476.30) scale(0.3340 0.3412)" font-size="100">6</text>
<text transform="translate(813.60 476.30) scale(0.3261 0.3412)" font-size="100">8</text>
<text transform="translate(971.18 476.30) scale(0.3460 0.3412)" font-size="100">10</text>
<text transform="translate(1138.93 476.30) scale(0.3389 0.3412)" font-size="100">12</text>
<text transform="translate(1306.57 476.30) scale(0.3459 0.3412)" font-size="100">14</text>
<text transform="translate(142.92 988.50) scale(0.3227 0.3412)" font-size="100">0</text>
<text transform="translate(310.55 988.50) scale(0.3096 0.3412)" font-size="100">2</text>
<text transform="translate(478.27 988.50) scale(0.3236 0.3412)" font-size="100">4</text>
<text transform="translate(645.69 988.50) scale(0.3340 0.3412)" font-size="100">6</text>
<text transform="translate(813.60 988.50) scale(0.3261 0.3412)" font-size="100">8</text>
<text transform="translate(971.18 988.50) scale(0.3460 0.3412)" font-size="100">10</text>
<text transform="translate(1138.93 988.50) scale(0.3389 0.3412)" font-size="100">12</text>
<text transform="translate(1306.57 988.50) scale(0.3459 0.3412)" font-size="100">14</text>
<text transform="translate(78.94 160.60) scale(0.3517 0.3412)" font-size="100">0.0</text>
<text transform="translate(52.76 260.30) scale(0.3775 0.3412)" font-size="100">−0.2</text>
<text transform="translate(52.75 360.00) scale(0.3807 0.3412)" font-size="100">−0.4</text>
<text transform="translate(78.94 672.40) scale(0.3517 0.3412)" font-size="100">0.0</text>
<text transform="translate(52.76 772.10) scale(0.3775 0.3412)" font-size="100">−0.2</text>
<text transform="translate(52.75 871.80) scale(0.3807 0.3412)" font-size="100">−0.4</text>
<text transform="translate(611.33 35.80) scale(0.4287 0.4090)" font-size="100">Brake Maneuvers</text>
<text transform="translate(596.58 546.60) scale(0.4274 0.4090)" font-size="100">Swerve Maneuvers</text>
<text transform="translate(714.38 1032.40) scale(0.3609 0.3412)" font-size="100">Time (s)</text>
<text transform="translate(31.1 242.80) rotate(-90) translate(-126.75 0.00) scale(0.3615 0.3412)" font-size="100">Acceleration (g)</text>
<text transform="translate(31.1 754.60) rotate(-90) translate(-126.75 0.00) scale(0.3615 0.3412)" font-size="100">Acceleration (g)</text>
<rect x="1193.3" y="70.40" width="199.4" height="148.2" rx="5.5" ry="5.5" fill="#fff" fill-opacity="0.8" stroke="#ccc" stroke-opacity="0.85" stroke-width="2.8"/>
<text transform="translate(1205.71 106.80) scale(0.3677 0.3412)" font-size="100">Intervened</text>
<line x1="1220.3" y1="142.00" x2="1289.4" y2="142.00" stroke="#1f77b4" stroke-width="4.8"/>
<line x1="1220.3" y1="188.90" x2="1289.4" y2="188.90" stroke="#ff7f0e" stroke-width="4.8"/>
<text transform="translate(1312.60 153.60) scale(0.3367 0.3412)" font-size="100">No</text>
<text transform="translate(1311.41 200.20) scale(0.3288 0.3412)" font-size="100">Yes</text>
<rect x="1193.3" y="582.20" width="199.4" height="148.2" rx="5.5" ry="5.5" fill="#fff" fill-opacity="0.8" stroke="#ccc" stroke-opacity="0.85" stroke-width="2.8"/>
<text transform="translate(1205.71 618.60) scale(0.3677 0.3412)" font-size="100">Intervened</text>
<line x1="1220.3" y1="653.80" x2="1289.4" y2="653.80" stroke="#1f77b4" stroke-width="4.8"/>
<line x1="1220.3" y1="700.70" x2="1289.4" y2="700.70" stroke="#ff7f0e" stroke-width="4.8"/>
<text transform="translate(1312.60 665.40) scale(0.3367 0.3412)" font-size="100">No</text>
<text transform="translate(1311.41 712.00) scale(0.3288 0.3412)" font-size="100">Yes</text>
</svg></body></html>
